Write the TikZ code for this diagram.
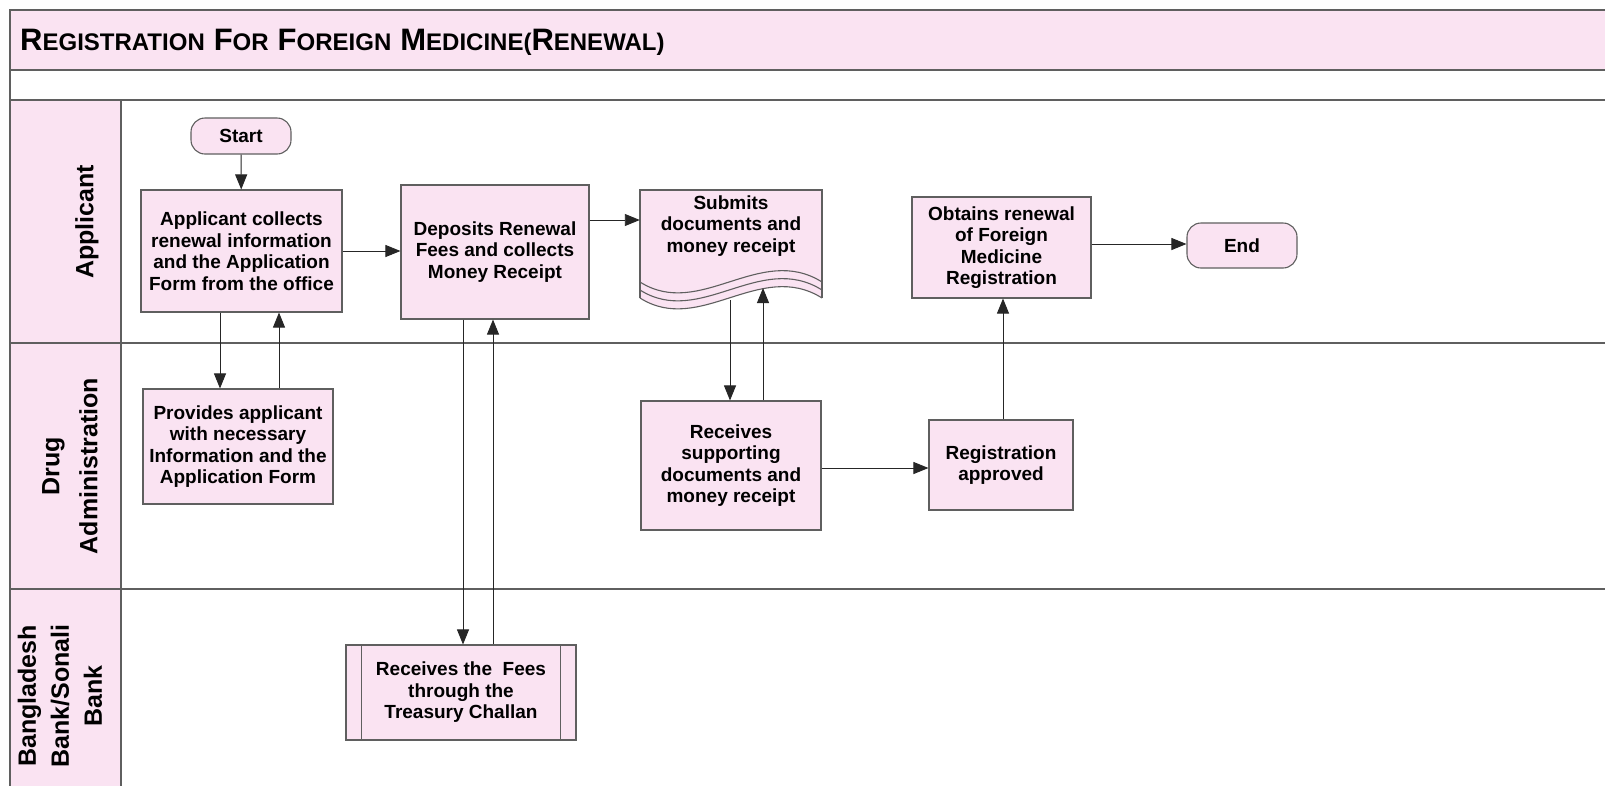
\documentclass[tikz,border=0pt]{standalone}
\usepackage{fontspec}
\usepackage{graphicx}
\setmainfont{Liberation Sans}
\usetikzlibrary{arrows.meta}
\definecolor{pinkfill}{RGB}{250,227,242}
\definecolor{linec}{RGB}{95,95,95}
\newcommand\tsc[2]{{\fontsize{31}{31}\selectfont #1}{\fontsize{24}{24}\selectfont #2}}
\begin{document}
\begin{tikzpicture}[x=1pt,y=-1pt,
  box/.style={draw=linec, fill=pinkfill, line width=1.1pt, align=center,
    font=\bfseries\fontsize{19}{21.5}\selectfont, inner sep=2pt},
  term/.style={box, rounded corners=14pt},
  arr/.style={-{Triangle[length=15pt,width=12pt]}, line width=0.9pt, draw=black!85},
  lane/.style={draw=linec, line width=1.4pt},
  lanelabel/.style={rotate=90, align=center, font=\bfseries\fontsize{25}{30}\selectfont}]

\useasboundingbox (0,0) rectangle (1605,785);
\fill[white] (0,0) rectangle (1605,785);

% pool frame and bands
\fill[pinkfill] (10,10) rectangle (1620,70);
\fill[pinkfill] (10,100) rectangle (121,800);
\draw[lane] (10,800) -- (10,10) -- (1620,10);
\draw[lane] (10,70) -- (1620,70);
\draw[lane] (10,100) -- (1620,100);
\draw[lane] (10,343) -- (1620,343);
\draw[lane] (10,589) -- (1620,589);
\draw[lane] (121,100) -- (121,800);

% title
\node[anchor=west, font=\bfseries, inner sep=0pt] (title) at (20,42)
  {\tsc{R}{EGISTRATION}\hspace{9pt}\tsc{F}{OR}\hspace{9pt}\tsc{F}{OREIGN}\hspace{9pt}\tsc{M}{EDICINE(}\tsc{R}{ENEWAL)}};

% lane labels
\node[lanelabel] (l1) at (87,222) {Applicant};
\node[lanelabel, font=\bfseries\fontsize{25}{38}\selectfont] (l2) at (70,466) {Drug\\Administration};
\node[lanelabel, font=\bfseries\fontsize{25}{33}\selectfont] (l3) at (60,696) {Bangladesh\\Bank/Sonali\\Bank};

% nodes
\node[term, minimum width=100pt, minimum height=36pt] (start) at (241,136) {Start};
\node[box, minimum width=201pt, minimum height=122pt] (collect) at (241.5,251)
  {Applicant collects\\renewal information\\and the Application\\Form from the office};
\node[box, minimum width=188pt, minimum height=134pt] (deposit) at (495,252)
  {Deposits Renewal\\Fees and collects\\Money Receipt};
\node[box, minimum width=179pt, minimum height=101pt] (obtain) at (1001.5,247.5)
  {Obtains renewal\\of Foreign\\Medicine\\Registration};
\node[term, minimum width=110pt, minimum height=45pt] (endn) at (1242,245.5) {End};
\node[box, minimum width=190pt, minimum height=115pt] (provide) at (238,446.5)
  {Provides applicant\\with necessary\\Information and the\\Application Form};
\node[box, minimum width=180pt, minimum height=129pt] (recsup) at (731,465.5)
  {Receives\\supporting\\documents and\\money receipt};
\node[box, minimum width=144pt, minimum height=90pt] (approved) at (1001,465)
  {Registration\\approved};
\node[box, minimum width=230pt, minimum height=95pt] (fees) at (461,692.5)
  {Receives the~ Fees\\through the\\Treasury Challan};
\draw[linec, line width=1.1pt] ([xshift=16pt]fees.north west) -- ([xshift=16pt]fees.south west);
\draw[linec, line width=1.1pt] ([xshift=-16pt]fees.north east) -- ([xshift=-16pt]fees.south east);

% document shape (submits)
\fill[pinkfill] (640,190) -- (822,190) -- (822,298)
  .. controls (760,259) and (700,336) .. (640,298) -- cycle;
\draw[linec, line width=1.1pt] (640,298) -- (640,190) -- (822,190) -- (822,298);
\draw[linec, line width=1.1pt] (640,282) .. controls (700,320) and (760,243) .. (822,282);
\draw[linec, line width=1.1pt] (640,290) .. controls (700,328) and (760,251) .. (822,290);
\draw[linec, line width=1.1pt] (640,298) .. controls (700,336) and (760,259) .. (822,298);
\node[align=center, font=\bfseries\fontsize{19}{21.5}\selectfont, minimum width=182pt, minimum height=70pt, inner sep=0pt] (submit) at (731,226)
  {Submits\\documents and\\money receipt};
\coordinate (subdn) at (730,300);
\coordinate (subup) at (763,288);

% x references
\coordinate (x1) at (220,0);
\coordinate (x2) at (279,0);
\coordinate (x3) at (463,0);
\coordinate (x4) at (493,0);
\coordinate (x5) at (1003,0);
\coordinate (y1) at (0,251);
\coordinate (y2) at (0,220);
\coordinate (y3) at (0,468);
\coordinate (y4) at (0,244);

% connectors
\draw[arr] (start) -- (collect);
\draw[arr] (collect.east |- y1) -- (deposit.west |- y1);
\draw[arr] (collect.south -| x1) -- (provide.north -| x1);
\draw[arr] (provide.north -| x2) -- (collect.south -| x2);
\draw[arr] (deposit.south -| x3) -- (fees.north -| x3);
\draw[arr] (fees.north -| x4) -- (deposit.south -| x4);
\draw[arr] (deposit.east |- y2) -- (submit.west |- y2);
\draw[arr] (subdn) -- (recsup.north -| subdn);
\draw[arr] (recsup.north -| subup) -- (subup);
\draw[arr] (recsup.east |- y3) -- (approved.west |- y3);
\draw[arr] (approved.north -| x5) -- (obtain.south -| x5);
\draw[arr] (obtain.east |- y4) -- (endn.west |- y4);
\end{tikzpicture}
\end{document}
